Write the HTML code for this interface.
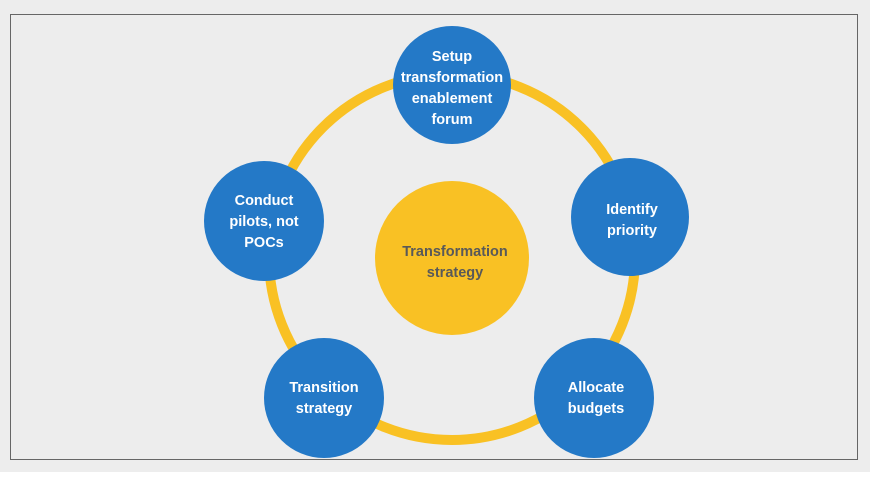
<!DOCTYPE html>
<html><head><style>
html,body{margin:0;padding:0;background:#fff;}
body{width:870px;height:472px;overflow:hidden;}
text{font-family:"Liberation Sans",sans-serif;font-weight:bold;}
</style></head><body>
<svg width="870" height="472" viewBox="0 0 870 472">
<rect x="0" y="0" width="870" height="472" fill="#ededed"/>
<rect x="10.5" y="14.5" width="847" height="445" fill="#ededed" stroke="#666" stroke-width="1"/>
<circle cx="452" cy="257" r="183" fill="none" stroke="#f9c124" stroke-width="10"/>
<circle cx="452" cy="258" r="77" fill="#f9c124"/>
<text x="455" y="256" font-size="14.5" fill="#595959" text-anchor="middle">Transformation</text>
<text x="455" y="277" font-size="14.5" fill="#595959" text-anchor="middle">strategy</text>
<g fill="#2479c7">
<circle cx="452" cy="85" r="59"/>
<circle cx="630" cy="217" r="59"/>
<circle cx="594" cy="398" r="60"/>
<circle cx="324" cy="398" r="60"/>
<circle cx="264" cy="221" r="60"/>
</g>
<g fill="#fff" font-size="14.5" text-anchor="middle">
<text x="452" y="61">Setup</text>
<text x="452" y="82">transformation</text>
<text x="452" y="103">enablement</text>
<text x="452" y="124">forum</text>
<text x="632" y="214">Identify</text>
<text x="632" y="235">priority</text>
<text x="596" y="392">Allocate</text>
<text x="596" y="413">budgets</text>
<text x="324" y="392">Transition</text>
<text x="324" y="413">strategy</text>
<text x="264" y="205">Conduct</text>
<text x="264" y="226">pilots, not</text>
<text x="264" y="247">POCs</text>
</g>
</svg>
</body></html>
